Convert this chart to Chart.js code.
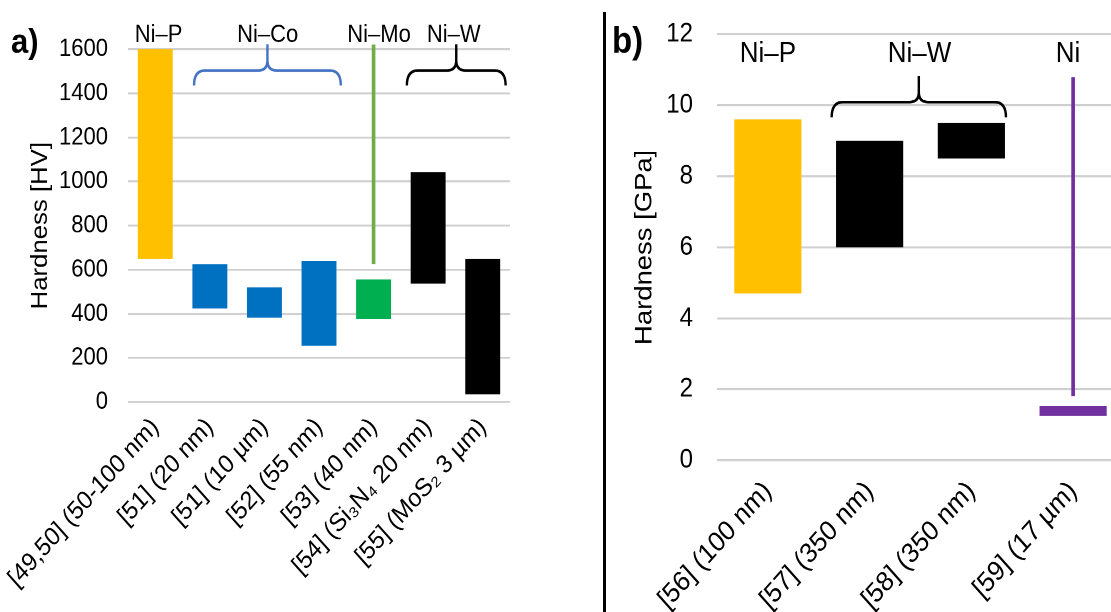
<!DOCTYPE html>
<html>
<head>
<meta charset="utf-8">
<script src="https://cdn.jsdelivr.net/npm/chart.js@4.4.1/dist/chart.umd.min.js"></script>
<style>
  html, body { margin:0; padding:0; background:#fff; overflow:hidden; }
  #wrap { position:relative; width:1111px; height:612px; overflow:hidden; }
  /* the original figure is slightly stretched vertically, so is ours */
  .panel { position:absolute; top:0; height:546px; transform:scaleY(1.12); transform-origin:0 0; }
  #leftBox { left:0; width:600px; }
  #rightBox { left:600px; width:540px; }
  #sep { position:absolute; left:603px; top:12px; width:3px; height:600px; background:#000; }
</style>
</head>
<body>
<div id="wrap">
  <div id="leftBox" class="panel"><canvas id="chartA" width="600" height="546"></canvas></div>
  <div id="rightBox" class="panel"><canvas id="chartB" width="540" height="546"></canvas></div>
  <div id="sep"></div>
</div>

<script>
// ===============================
// DATA - panel a) hardness in HV
// ===============================
const aLabels = ["[49,50] (50-100 nm)", "[51] (20 nm)", "[51] (10 µm)", "[52] (55 nm)",
                 "[53] (40 nm)", "[54] (Si₃N₄ 20 nm)", "[55] (MoS₂ 3 µm)"];
const aLow    = [650, 425, 383, 255, 376, 537, 35];
const aHigh   = [1600, 625, 520, 640, 556, 1043, 650];
const aColors = ["#FFC000", "#0070C0", "#0070C0", "#0070C0", "#00B050", "#000000", "#000000"];
// Ni-Mo range line
const aLineLow  = [null, null, null, null, 628, null, null];
const aLineHigh = [null, null, null, null, 1620, null, null];
const aGroups   = ["Ni–P", "Ni–Co", "Ni–Mo", "Ni–W"];

// ===============================
// DATA - panel b) hardness in GPa
// ===============================
const bLabels = ["[56] (100 nm)", "[57] (350 nm)", "[58] (350 nm)", "[59] (17 µm)"];
const bLow    = [4.7, 6.0, 8.5, 1.25];
const bHigh   = [9.6, 9.0, 9.5, 1.53];
const bColors = ["#FFC000", "#000000", "#000000", "#7030A0"];
const bLineLow  = [null, null, null, 1.82];
const bLineHigh = [null, null, null, 10.78];
const bGroups   = ["Ni–P", "Ni–W", "Ni"];

const FONT = "'Liberation Sans', Arial, sans-serif";
const pairs = (lo, hi) => lo.map((v, i) => v === null ? null : [v, hi[i]]);

// ===============================
// DECORATION PLUGIN (braces, group names, panel letter)
// ===============================
function drawBrace(ctx, x, y, b){
  const x0 = x.getPixelForValue(b.from), x1 = x.getPixelForValue(b.to);
  const xc = (x0 + x1) / 2;
  const yTip = y.getPixelForValue(b.tip), yBar = y.getPixelForValue(b.bar), yPeak = y.getPixelForValue(b.peak);
  const r = 11, r2 = 9;
  ctx.beginPath();
  ctx.moveTo(x0, yTip);
  ctx.quadraticCurveTo(x0, yBar, x0 + r, yBar);
  ctx.lineTo(xc - r2, yBar);
  ctx.quadraticCurveTo(xc, yBar, xc, yBar - r2);
  ctx.lineTo(xc, yPeak);
  ctx.moveTo(xc, yBar - r2);
  ctx.quadraticCurveTo(xc, yBar, xc + r2, yBar);
  ctx.lineTo(x1 - r, yBar);
  ctx.quadraticCurveTo(x1, yBar, x1, yTip);
  ctx.strokeStyle = b.color;
  ctx.lineWidth = 2.4;
  ctx.stroke();
}

const decor = {
  id: "decor",
  afterDraw(chart, args, opts){
    const {ctx, scales:{x, y}} = chart;
    ctx.save();
    (opts.braces || []).forEach(b => drawBrace(ctx, x, y, b));
    ctx.fillStyle = "#000";
    ctx.textAlign = "center";
    ctx.textBaseline = "alphabetic";
    ctx.font = opts.nameSize + "px " + FONT;
    opts.names.forEach((t, i) => {
      ctx.fillText(t, x.getPixelForValue(opts.nameAt[i]), y.getPixelForValue(opts.nameY));
    });
    ctx.font = "bold " + opts.letterSize + "px " + FONT;
    ctx.textAlign = "left";
    ctx.fillText(opts.letter, opts.letterX, opts.letterY);
    ctx.restore();
  }
};

function makeChart(id, cfg){
  return new Chart(document.getElementById(id), {
    type: "bar",
    data: {
      labels: cfg.labels,
      datasets: [{
        data: pairs(cfg.low, cfg.high),
        backgroundColor: cfg.colors,
        barPercentage: cfg.barPct,
        categoryPercentage: 1,
        grouped: false,
        order: 1
      }, {
        data: pairs(cfg.lineLow, cfg.lineHigh),
        backgroundColor: cfg.lineColor,
        barThickness: 3,
        grouped: false,
        clip: false,
        order: 0
      }]
    },
    options: {
      responsive: false,
      devicePixelRatio: 2,
      animation: false,
      layout: { padding: cfg.padding },
      plugins: {
        legend: { display: false },
        tooltip: { enabled: false },
        decor: cfg.decor
      },
      scales: {
        x: {
          grid: { display: false },
          border: { display: false },
          ticks: { color: "#000", font: { family: FONT, size: cfg.xFont }, minRotation: 45, maxRotation: 45, padding: cfg.xPad },
          afterFit: s => { s.height = cfg.xHeight; }
        },
        y: {
          min: cfg.min, max: cfg.max,
          grid: { color: "#cfcfcf", lineWidth: 1.8, drawTicks: false },
          border: { display: false },
          ticks: { stepSize: cfg.step, color: "#000", font: { family: FONT, size: cfg.yFont }, padding: cfg.yPad,
                   callback: v => String(v) },
          title: { display: true, text: cfg.yTitle, color: "#000", font: { family: FONT, size: cfg.titleFont }, padding: { top: cfg.titlePad, bottom: 0 } },
          // fixed axis width; layout padding alone decides the plot top
          afterFit: s => { s.width = cfg.yWidth; s.paddingTop = 0; s.paddingBottom = 0; }
        }
      }
    },
    plugins: [decor]
  });
}

// ===============================
// PANEL A
// ===============================
makeChart("chartA", {
  labels: aLabels, low: aLow, high: aHigh, colors: aColors,
  lineLow: aLineLow, lineHigh: aLineHigh, lineColor: "#70AD47",
  barPct: 0.64, min: 0, max: 1600, step: 200,
  yTitle: "Hardness [HV]", titleFont: 23, titlePad: 27, yWidth: 128, yPad: 20, yFont: 22,
  xHeight: 187, xPad: 1, xFont: 23,
  padding: { left: 0, right: 90, top: 44, bottom: 0 },
  decor: {
    braces: [
      { from: 0.71, to: 3.40, tip: 1436, bar: 1504, peak: 1622, color: "#4472C4" },
      { from: 4.61, to: 6.42, tip: 1436, bar: 1504, peak: 1622, color: "#000000" }
    ],
    names: aGroups, nameAt: [0.06, 2.06, 4.10, 5.47], nameY: 1633, nameSize: 22,
    letter: "a)", letterX: 11, letterY: 47, letterSize: 31
  }
});

// ===============================
// PANEL B
// ===============================
makeChart("chartB", {
  labels: bLabels, low: bLow, high: bHigh, colors: bColors,
  lineLow: bLineLow, lineHigh: bLineHigh, lineColor: "#7030A0",
  barPct: 0.66, min: 0, max: 12, step: 2,
  yTitle: "Hardness [GPa]", titleFont: 24.5, titlePad: 30, yWidth: 117, yPad: 24, yFont: 24,
  xHeight: 135, xPad: 5, xFont: 25,
  padding: { left: 0, right: 16, top: 30.6, bottom: 0 },
  decor: {
    braces: [
      { from: 0.627, to: 2.34, tip: 9.66, bar: 10.09, peak: 10.82, color: "#000000" }
    ],
    names: bGroups, nameAt: [0.0, 1.49, 2.95], nameY: 11.22, nameSize: 26,
    letter: "b)", letterX: 12, letterY: 47, letterSize: 33
  }
});
</script>
</body>
</html>
